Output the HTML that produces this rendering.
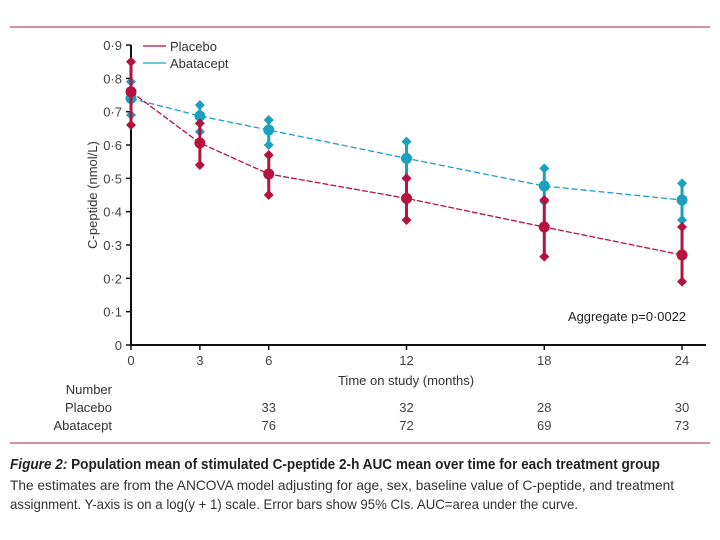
<!DOCTYPE html>
<html><head><meta charset="utf-8"><style>
html,body{margin:0;padding:0;background:#fff;width:720px;height:540px;overflow:hidden}
svg{display:block;font-family:"Liberation Sans Narrow","Liberation Sans",sans-serif}
</style></head><body>
<svg id="chart" width="720" height="540" viewBox="0 0 720 540" xmlns="http://www.w3.org/2000/svg">
<line x1="10" y1="27" x2="710" y2="27" stroke="#9b2a45" stroke-width="1"/>
<line x1="10" y1="443" x2="710" y2="443" stroke="#9b2a45" stroke-width="1"/>
<g id="axes"></g>
<g id="marks"></g>
<g>
<line x1="143" y1="46" x2="166" y2="46" stroke="#b5123f" stroke-width="1.3"/>
<text x="170" y="51" font-size="13" fill="#333">Placebo</text>
<line x1="143" y1="63" x2="166" y2="63" stroke="#1ba0c0" stroke-width="1.3"/>
<text x="170" y="68" font-size="13" fill="#333">Abatacept</text>
</g>
<text x="568" y="321" font-size="13" fill="#222" textLength="118" lengthAdjust="spacingAndGlyphs">Aggregate p=0·0022</text>
<text transform="translate(97,195) rotate(-90)" text-anchor="middle" font-size="13" fill="#333">C-peptide (nmol/L)</text>
<text x="406" y="385" text-anchor="middle" font-size="13" fill="#333">Time on study (months)</text>
<g>
<text x="112" y="394" text-anchor="end" font-size="13" fill="#333">Number</text>
<text x="112" y="412" text-anchor="end" font-size="13" fill="#333">Placebo</text>
<text x="112" y="430" text-anchor="end" font-size="13" fill="#333">Abatacept</text>
<g id="counts"></g>
</g>
<g>
<text x="10" y="469" font-size="14.5" font-weight="bold" fill="#222" textLength="650" lengthAdjust="spacingAndGlyphs"><tspan font-style="italic">Figure 2:</tspan> Population mean of stimulated C-peptide 2-h AUC mean over time for each treatment group</text>
<text x="10" y="490" font-size="14" fill="#333" textLength="664" lengthAdjust="spacingAndGlyphs">The estimates are from the ANCOVA model adjusting for age, sex, baseline value of C-peptide, and treatment</text>
<text x="10" y="509" font-size="14" fill="#333" textLength="568" lengthAdjust="spacingAndGlyphs">assignment. Y-axis is on a log(y + 1) scale. Error bars show 95% CIs. AUC=area under the curve.</text>
</g>
</svg>
<script>
const months=[0,3,6,12,18,24];
const yTicks=[0,0.1,0.2,0.3,0.4,0.5,0.6,0.7,0.8,0.9];
const yTickLabels=["0","0·1","0·2","0·3","0·4","0·5","0·6","0·7","0·8","0·9"];
const placeboMean=[0.76,0.606,0.513,0.44,0.354,0.27];
const placeboUpper=[0.85,0.665,0.57,0.50,0.435,0.354];
const placeboLower=[0.66,0.54,0.45,0.375,0.265,0.19];
const abataceptMean=[0.74,0.687,0.645,0.56,0.477,0.435];
const abataceptUpper=[0.79,0.72,0.675,0.61,0.53,0.485];
const abataceptLower=[0.69,0.64,0.60,0.50,0.43,0.375];
const countMonths=[6,12,18,24];
const placeboCounts=["33","32","28","30"];
const abataceptCounts=["76","72","69","73"];

const NS="http://www.w3.org/2000/svg";
const x=m=>131+m*22.96;
const y=v=>345-v*333.3;
function mk(tag,attrs,parent){const e=document.createElementNS(NS,tag);for(const k in attrs)e.setAttribute(k,attrs[k]);parent.appendChild(e);return e;}
const axes=document.getElementById('axes'),marks=document.getElementById('marks'),counts=document.getElementById('counts');

let a=mk('line',{x1:x(0),y1:y(0),x2:x(0),y2:y(0.9),stroke:'#111','stroke-width':2},axes);


a=mk('line',{x1:x(0),y1:y(0),x2:706,y2:y(0),stroke:'#111','stroke-width':2},axes);


yTicks.forEach((v,i)=>{
  const t=mk('line',{x1:x(0)-5,y1:y(v),x2:x(0),y2:y(v),stroke:'#111','stroke-width':1.5},axes);
  
  
  const l=mk('text',{x:x(0)-9,y:y(v)+5,'text-anchor':'end','font-size':13,fill:'#444'},axes);
  l.textContent=yTickLabels[i];
  
  
});
months.forEach(m=>{
  const t=mk('line',{x1:x(m),y1:y(0),x2:x(m),y2:y(0)+5,stroke:'#111','stroke-width':1.5},axes);
  
  
  const l=mk('text',{x:x(m),y:365,'text-anchor':'middle','font-size':13,fill:'#444'},axes);
  l.textContent=String(m);
  
  
});
function series(name,mean,up,lo,color,dash){
  const pts=months.map((m,i)=>x(m)+','+y(mean[i])).join(' ');
  const ln=mk('polyline',{points:pts,fill:'none',stroke:color,'stroke-width':1.3,'stroke-dasharray':dash},marks);
  
  
  months.forEach((m,i)=>{
    const cx=x(m);
    const eb=mk('line',{x1:cx,y1:y(up[i]),x2:cx,y2:y(lo[i]),stroke:color,'stroke-width':3},marks);
    
    
    [up[i],lo[i]].forEach(v=>{
      const d=mk('polygon',{points:`${cx},${y(v)-5} ${cx+5},${y(v)} ${cx},${y(v)+5} ${cx-5},${y(v)}`,fill:color},marks);
      
      
    });
    const c=mk('circle',{cx:cx,cy:y(mean[i]),r:5.5,fill:color},marks);
    
    
  });
}
series('abatacept',abataceptMean,abataceptUpper,abataceptLower,'#1ba0c0','6,3');
series('placebo',placeboMean,placeboUpper,placeboLower,'#b5123f','6,2');
countMonths.forEach((m,i)=>{
  let t=mk('text',{x:x(m),y:412,'text-anchor':'middle','font-size':13,fill:'#444'},counts);
  t.textContent=placeboCounts[i];
  
  
  t=mk('text',{x:x(m),y:430,'text-anchor':'middle','font-size':13,fill:'#444'},counts);
  t.textContent=abataceptCounts[i];
  
  
});
</script>
</body></html>
